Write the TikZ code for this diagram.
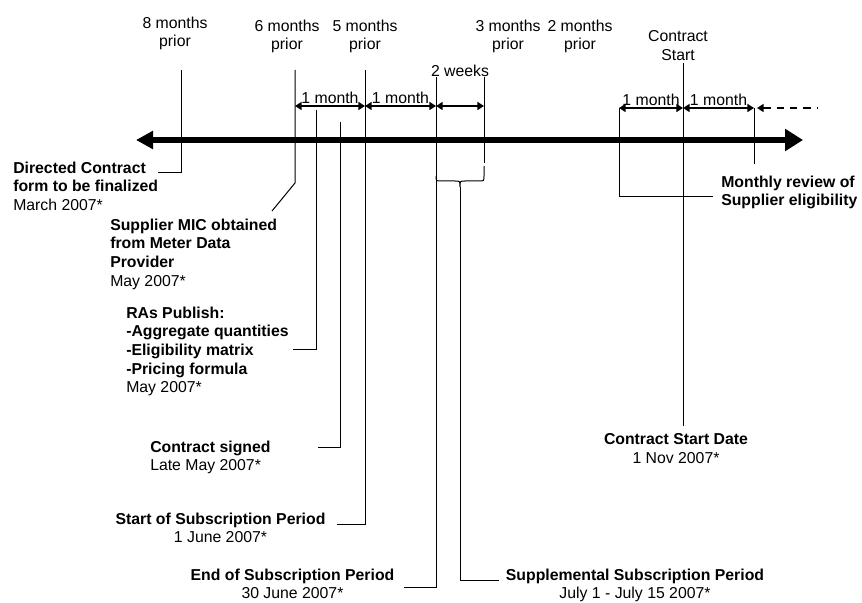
\documentclass[tikz,border=0pt]{standalone}
\usepackage{fontspec}
\setmainfont{Liberation Sans}
\usetikzlibrary{
    arrows.meta,
    positioning,
    calc,
    decorations.pathreplacing
}

\begin{document}
\begin{tikzpicture}[
    x=0.75pt, y=-0.75pt,
    >=Latex,
    every node/.style={font=\fontsize{11.85}{14}\selectfont, inner sep=0pt},
    timeline/.style={line width=4.5pt,
        {Triangle[length=12.75pt,width=13pt]}-{Triangle[length=13.5pt,width=16pt]}},
    leader/.style={line width=0.75pt},
    span/.style={line width=1.5pt,
        {Triangle[length=5pt,width=6pt]}-{Triangle[length=5pt,width=6pt]}},
    spanlabel/.style={midway, anchor=base, yshift=1.5pt},
    period/.style={align=center, anchor=north},
    event/.style={align=left, anchor=north west},
    eventc/.style={align=center, anchor=north}
]

\useasboundingbox (0,0) rectangle (862,602);

\coordinate (L) at (136,140);
\coordinate (R) at (803,140);
\draw[timeline] (L) -- (R);

\node[period] (m8) at (175,16.5) {8 months\\prior};
\node[period] (m6) at (287,19.5) {6 months\\prior};
\node[period] (m5) at (365,19.5) {5 months\\prior};
\node[period] (m3) at (508,19.5) {3 months\\prior};
\node[period] (m2) at (580,19.5) {2 months\\prior};
\node[period] (cs) at (678,30.5) {Contract\\Start};

\node[event] (dc) at (13,161.5)
    {\textbf{Directed Contract}\\\textbf{form to be finalized}\\March 2007*};
\node[event] (sm) at (110,218.5)
    {\textbf{Supplier MIC obtained}\\\textbf{from Meter Data}\\\textbf{Provider}\\May 2007*};
\node[event] (ra) at (126,306.3)
    {\textbf{RAs Publish:}\\\textbf{-Aggregate quantities}\\\textbf{-Eligibility matrix}\\\textbf{-Pricing formula}\\May 2007*};
\node[event] (sg) at (150,440.6)
    {\textbf{Contract signed}\\Late May 2007*};
\node[eventc] (ss) at (220.5,512.6)
    {\textbf{Start of Subscription Period}\\1 June 2007*};
\node[eventc] (es) at (292.5,568.6)
    {\textbf{End of Subscription Period}\\30 June 2007*};
\node[eventc] (sp) at (635,568.6)
    {\textbf{Supplemental Subscription Period}\\July 1 - July 15 2007*};
\node[eventc] (csd) at (676,433.6)
    {\textbf{Contract Start Date}\\1 Nov 2007*};
\node[event] (mr) at (721,175.6)
    {\textbf{Monthly review of}\\\textbf{Supplier eligibility}};

\coordinate (T8) at (181,70);   \coordinate (B8) at (181,173);
\coordinate (T6) at (295,70);   \coordinate (B6) at (295,183);
\coordinate (E6) at (272,211);
\coordinate (TR) at (316,110);  \coordinate (BR) at (316,349);
\coordinate (ER) at (293,349);
\coordinate (TS) at (340,122);  \coordinate (BS) at (340,447);
\coordinate (ES) at (318,447);
\coordinate (T5) at (365,70);   \coordinate (B5) at (365,524);
\coordinate (E5) at (337,524);
\coordinate (TW) at (436,77);   \coordinate (BW) at (436,587);
\coordinate (EW) at (404,587);
\coordinate (TX) at (484,77);   \coordinate (BX) at (484,163);
\coordinate (TM) at (619,108);  \coordinate (BM) at (619,197);
\coordinate (EM) at (713,197);
\coordinate (TC) at (683,140);
\coordinate (TN) at (754,108);  \coordinate (BN) at (754,164);

\draw[leader] (T8) -- (B8) -- (B8 -| dc.east);
\draw[leader] (T6) -- (B6) -- (E6);
\draw[leader] (TR) -- (BR) -- (ER);
\draw[leader] (TS) -- (BS) -- (ES);
\draw[leader] (T5) -- (B5) -- (E5);
\draw[leader] (TW) -- (BW) -- (EW);
\draw[leader] (TX) -- (BX);
\draw[leader] (TM) -- (BM) -- (EM);
\draw[leader] ([yshift=-1.5pt]TC |- cs.south) -- ([yshift=6pt]TC |- csd.north);
\draw[leader] (TN) -- (BN);

\coordinate (BT) at (460,187);
\draw[leader] (484,166) -- (484,176) .. controls (484,181) .. (479,181)
    -- (465,181) .. controls (460,181) .. (BT)
    .. controls (460,181) .. (455,181) -- (441,181)
    .. controls (436,181) .. (436,176);
\coordinate (EB) at (460,580);
\coordinate (ET) at (499,580);
\draw[leader] (BT) -- (EB) -- (ET);

\coordinate (Y1) at (0,106);
\coordinate (Y2) at (0,108);
\draw[span] (T6 |- Y1) -- (T5 |- Y1) node[spanlabel] (s1) {1 month};
\draw[span] (T5 |- Y1) -- (TW |- Y1) node[spanlabel] (s2) {1 month};
\draw[span] (TW |- Y1) -- (TX |- Y1);
\node[anchor=base] (s3) at (460,77) {2 weeks};
\draw[span] (TM |- Y2) -- (TC |- Y2) node[spanlabel] (s4) {1 month};
\draw[span] (TC |- Y2) -- (TN |- Y2) node[spanlabel] (s5) {1 month};
\coordinate (DA) at (757,108);
\coordinate (DB) at (818,108);
\draw[line width=1.5pt, dash pattern=on 5.5pt off 4.5pt,
    {Triangle[length=5pt,width=6pt]}-] (DA) -- (DB);

\end{tikzpicture}
\end{document}
